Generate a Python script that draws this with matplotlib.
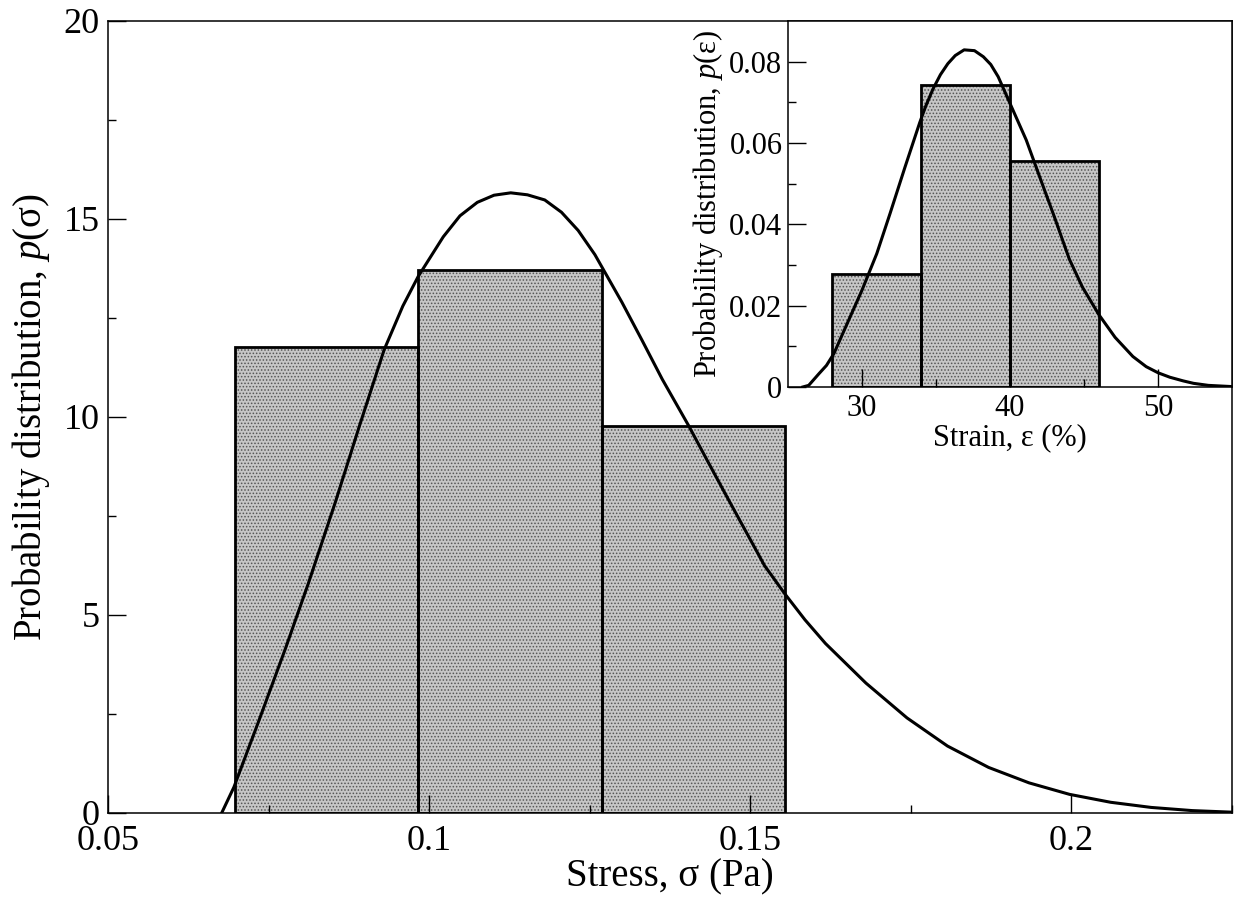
import numpy as np
import matplotlib
matplotlib.use("Agg")
import matplotlib.pyplot as plt

# stress histogram (main panel)
stress_edges = [0.0697, 0.0983, 0.1269, 0.1554]
stress_heights = [11.77, 13.71, 9.77]

# fitted distribution
stress_x = [0.0677, 0.0696, 0.0734, 0.0776, 0.0812, 0.0854, 0.0891, 0.0930,
            0.0959, 0.0983, 0.1022, 0.1048, 0.1075, 0.1101, 0.1127,
            0.1153, 0.1180, 0.1206, 0.1232, 0.1258, 0.1300,
            0.1331, 0.1363, 0.1404, 0.1433, 0.1458, 0.1490, 0.1522, 0.1553,
            0.1585, 0.1617, 0.1680, 0.1744, 0.1807, 0.1871, 0.1934, 0.1997,
            0.2061, 0.2124, 0.2188, 0.2250]
stress_p = [0.0, 0.65, 2.29, 4.14, 5.80, 7.85, 9.75, 11.70,
            12.80, 13.55, 14.55, 15.08, 15.42, 15.60, 15.66,
            15.61, 15.48, 15.17, 14.71, 14.10, 12.90,
            11.95, 10.95, 9.78, 8.90, 8.15, 7.20, 6.25, 5.55,
            4.88, 4.28, 3.28, 2.40, 1.69, 1.15, 0.76, 0.47,
            0.27, 0.14, 0.06, 0.02]

# strain histogram (inset)
strain_edges = [28, 34, 40, 46]
strain_heights = [0.0279, 0.0743, 0.0556]

strain_x = [26.0, 26.4, 27.1, 27.6, 28.1, 29.0, 30.0, 31.0, 31.9, 32.9,
            33.9, 34.3, 34.8, 35.3, 35.8, 36.3, 36.9, 37.6, 38.2, 38.7,
            39.2, 40.1, 41.1, 42.0, 43.0, 44.0, 44.9, 46.0, 47.1, 48.3,
            49.2, 50.0, 50.8, 51.7, 52.4, 53.4, 55.0]
strain_p = [0.0, 0.0004, 0.0033, 0.0053, 0.0082, 0.0156, 0.0238, 0.0328,
            0.0427, 0.0540, 0.0650, 0.0690, 0.0733, 0.0768, 0.0795, 0.0815,
            0.0829, 0.0827, 0.0812, 0.0793, 0.0763, 0.0689, 0.0607, 0.0517,
            0.0418, 0.0315, 0.0245, 0.0178, 0.0122, 0.0075, 0.0050, 0.0035,
            0.0024, 0.0015, 0.0009, 0.0004, 0.0001]

plt.rcParams['font.family'] = ['Liberation Serif', 'DejaVu Serif']
plt.rcParams['mathtext.fontset'] = 'custom'
plt.rcParams['mathtext.it'] = 'Liberation Serif:italic'
plt.rcParams['mathtext.rm'] = 'Liberation Serif'
plt.rcParams['hatch.linewidth'] = 0.7


def hist_bars(ax, edges, heights, lw):
    left = np.array(edges[:-1])
    width = np.diff(edges)
    # dotted fill, then black outline on top
    ax.bar(left, heights, width=width, align='edge', color='#c6c6c6',
           edgecolor='#555555', linewidth=0, hatch='.....', zorder=1)
    ax.bar(left, heights, width=width, align='edge', fill=False,
           edgecolor='black', linewidth=lw, zorder=1.5)


def style_ticks(ax, size, xpad, ypad):
    ax.tick_params(which='both', direction='in', top=False, right=False,
                   width=1.0, labelsize=size)
    ax.tick_params(axis='x', pad=xpad)
    ax.tick_params(axis='y', pad=ypad)
    ax.tick_params(which='major', length=13)
    ax.tick_params(which='minor', length=6)
    for s in ax.spines.values():
        s.set_linewidth(1.1)


fig = plt.figure(figsize=(12.37, 9), dpi=100)

# main panel
ax = fig.add_axes([0.0873, 0.0967, 0.9087, 0.88])
hist_bars(ax, stress_edges, stress_heights, 2.0)
ax.plot(stress_x, stress_p, color='black', linewidth=2.2, zorder=2,
        solid_joinstyle='round')
ax.set_xlim(0.05, 0.225)
ax.set_ylim(0, 20)
ax.set_xticks([0.05, 0.1, 0.15, 0.2])
ax.set_xticklabels(['0.05', '0.1', '0.15', '0.2'])
ax.set_xticks(np.arange(0.075, 0.225, 0.05), minor=True)
ax.set_yticks([0, 5, 10, 15, 20])
ax.set_yticks([2.5, 7.5, 12.5, 17.5], minor=True)
style_ticks(ax, 26, 9, 6)
ax.set_xlabel('Stress, σ (Pa)', fontsize=28, labelpad=0)
ax.set_ylabel('Probability distribution, $p$(σ)', fontsize=28, labelpad=8)

# inset panel
ins = fig.add_axes([0.637, 0.570, 0.359, 0.4067])
ins.set_facecolor('white')
hist_bars(ins, strain_edges, strain_heights, 2.0)
ins.plot(strain_x, strain_p, color='black', linewidth=2.2, zorder=2,
         solid_joinstyle='round')
ins.set_xlim(25, 55)
ins.set_ylim(0, 0.09)
ins.set_xticks([30, 40, 50])
ins.set_xticks([35, 45], minor=True)
ins.set_yticks([0, 0.02, 0.04, 0.06, 0.08])
ins.set_yticklabels(['0', '0.02', '0.04', '0.06', '0.08'])
ins.set_yticks([0.01, 0.03, 0.05, 0.07], minor=True)
style_ticks(ins, 22, 5, 4)
ins.set_xlabel('Strain, ε (%)', fontsize=22, labelpad=0)
ins.set_ylabel('Probability distribution, $p$(ε)', fontsize=22, labelpad=3)

fig.savefig('out.png', dpi=100)
